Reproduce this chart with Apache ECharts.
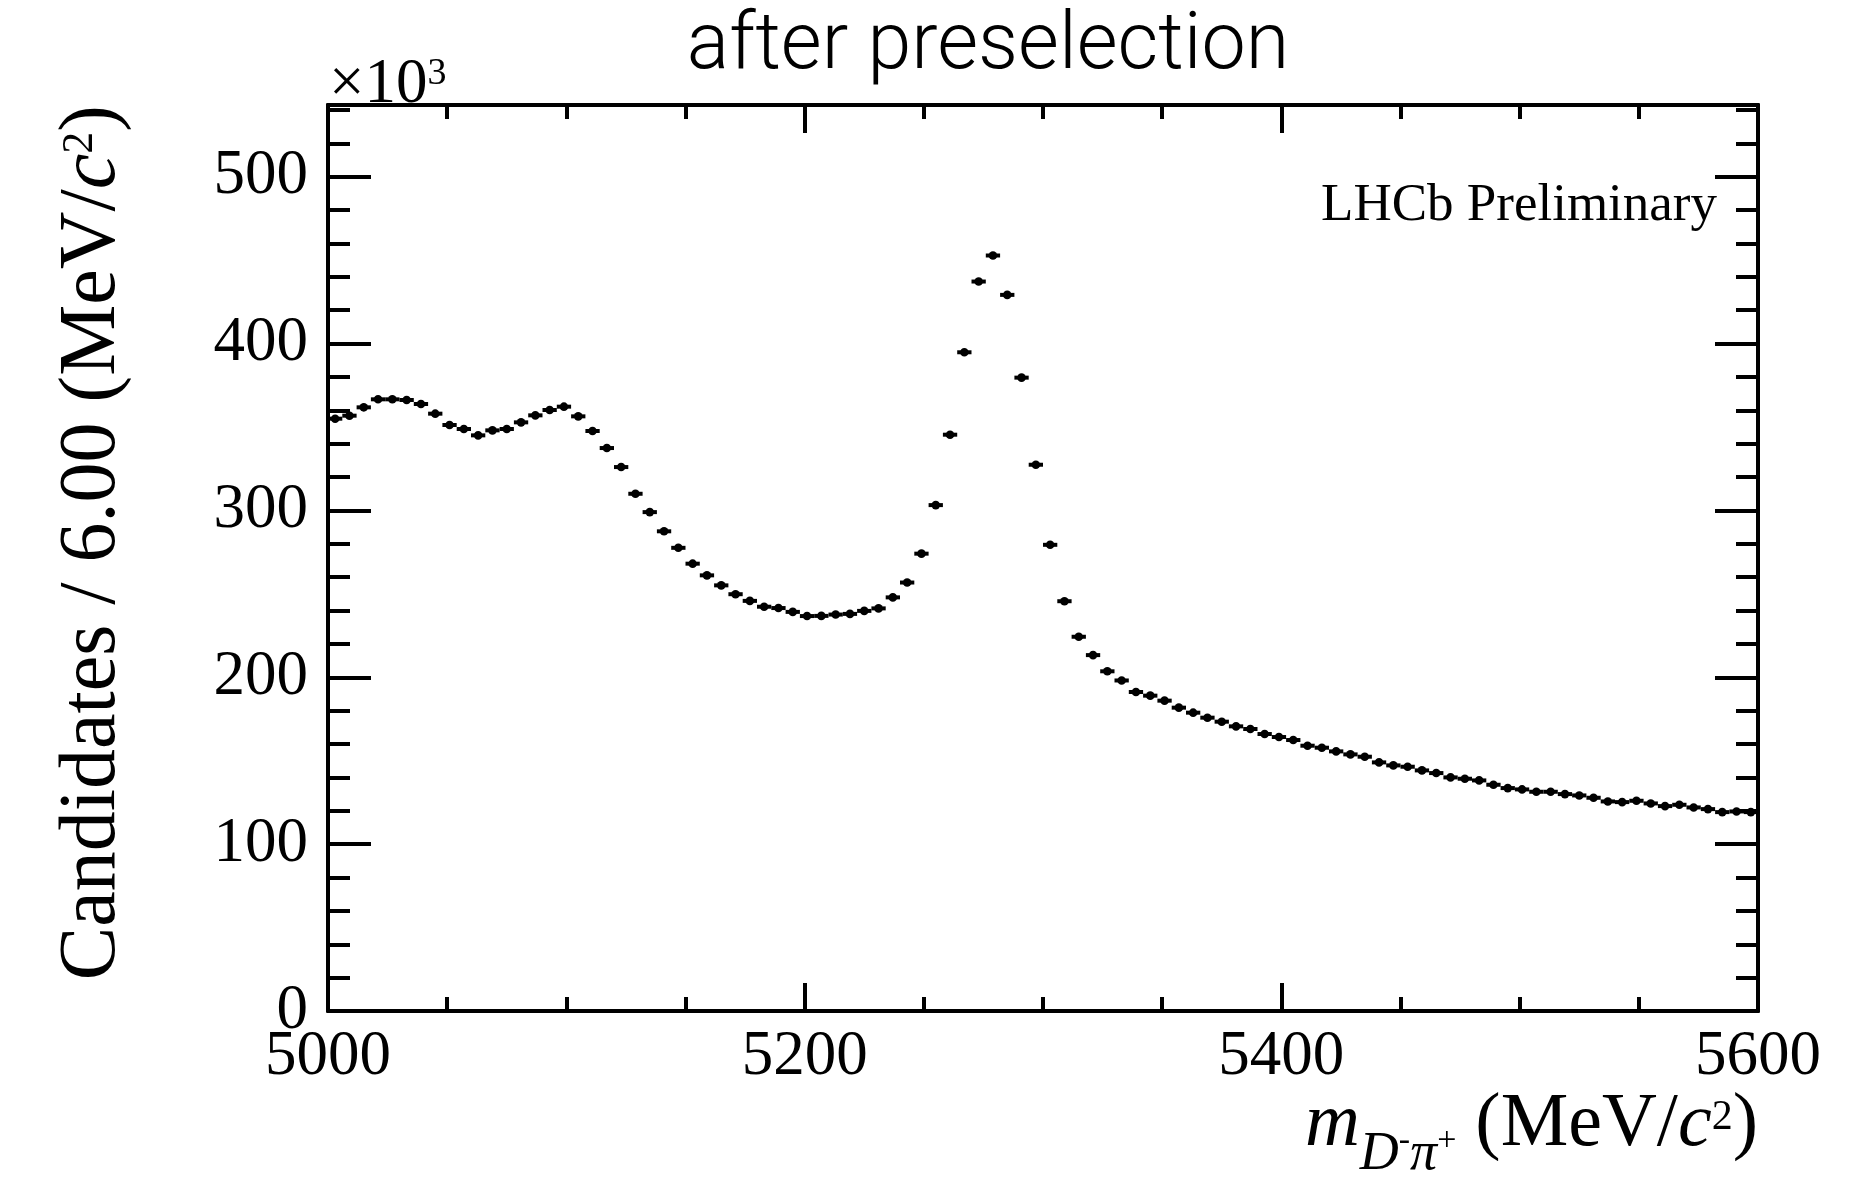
<!DOCTYPE html>
<html>
<head>
<meta charset="utf-8">
<script src="https://cdn.jsdelivr.net/npm/echarts@6/dist/echarts.min.js"></script>
<style>
html,body{margin:0;padding:0;background:#fff;}
#chart{width:1870px;height:1178px;}
</style>
</head>
<body>
<div id="chart"></div>
<script>
// ---- data (values in units of 10^3 candidates per 6 MeV/c^2 bin) ----
const massMin = 5000;
const massMax = 5600;
const binWidth = 6;
const candidates = [
  355.0, 356.8, 361.8, 366.6, 366.6, 366.2, 363.8, 358.0, 351.2, 348.8,
  345.0, 348.0, 348.8, 352.8, 357.0, 360.2, 362.2, 356.4, 347.6, 337.4,
  326.0, 310.0, 299.0, 287.5, 277.6, 268.1, 261.1, 255.1, 249.8, 245.8,
  242.3, 241.5, 239.2, 236.7, 236.8, 237.6, 238.0, 239.8, 241.3, 247.9,
  256.8, 274.1, 303.2, 345.4, 394.8, 437.2, 452.8, 429.2, 379.6, 327.4,
  279.4, 245.6, 224.3, 213.3, 203.6, 198.1, 191.2, 189.0, 186.0, 181.8,
  178.8, 175.8, 173.4, 170.6, 169.0, 166.0, 164.2, 162.4, 159.0, 157.8,
  155.6, 153.8, 152.4, 149.0, 147.2, 146.4, 144.2, 142.6, 140.0, 139.2,
  138.2, 135.6, 133.6, 132.8, 131.4, 131.4, 130.0, 129.2, 127.8, 125.6,
  125.2, 126.0, 124.4, 122.8, 123.6, 122.0, 121.0, 119.2, 119.6, 119.2
];
const xTickValues = [5000, 5200, 5400, 5600];
const yTickValues = [0, 100, 200, 300, 400, 500];
const yMax = 543;

// bin centres
const binCentres = candidates.map((v, i) => massMin + binWidth * i + binWidth / 2);
const points = candidates.map((v, i) => [binCentres[i], v]);

const SERIF = 'Liberation Serif';
const black = '#000';

function xAxisCfg(pos, showLabel) {
  return {
    type: 'value', position: pos, min: massMin, max: massMax,
    interval: xTickValues[1] - xTickValues[0],
    axisLine: { show: true, onZero: false, lineStyle: { color: black, width: 4 } },
    axisTick: { show: true, inside: true, length: 28, lineStyle: { color: black, width: 4 } },
    minorTick: { show: true, splitNumber: 4, length: 14, lineStyle: { color: black, width: 4 } },
    splitLine: { show: false },
    axisLabel: {
      show: showLabel, fontFamily: SERIF, fontSize: 63, color: black, margin: 15,
      formatter: function (v) { return xTickValues.indexOf(v) >= 0 ? String(v) : ''; }
    }
  };
}
function yAxisCfg(pos, interval, len, showLabel) {
  return {
    type: 'value', position: pos, min: 0, max: yMax, interval: interval,
    axisLine: { show: true, onZero: false, lineStyle: { color: black, width: 4 } },
    axisTick: { show: true, inside: true, length: len, lineStyle: { color: black, width: 4 } },
    splitLine: { show: false },
    axisLabel: {
      show: showLabel, fontFamily: SERIF, fontSize: 63, color: black, margin: 20,
      formatter: function (v) { return yTickValues.indexOf(v) >= 0 ? String(v) : ''; }
    }
  };
}

const chart = echarts.init(document.getElementById('chart'), null, { renderer: 'canvas' });

const mainRich = (size, extra) => Object.assign({ fontFamily: SERIF, fontSize: size, lineHeight: 100, fill: black, color: black }, extra || {});

chart.setOption({
  animation: false,
  backgroundColor: '#fff',
  grid: { left: 328, top: 105, width: 1430, height: 906, containLabel: false },
  xAxis: [xAxisCfg('bottom', true), xAxisCfg('top', false)],
  yAxis: [
    yAxisCfg('left', 100, 43, true),
    yAxisCfg('left', 20, 22, false),
    yAxisCfg('right', 100, 43, false),
    yAxisCfg('right', 20, 22, false)
  ],
  series: [{
    type: 'custom',
    xAxisIndex: 0,
    yAxisIndex: 0,
    clip: true,
    data: points,
    renderItem: function (params, api) {
      const x = api.value(0), y = api.value(1);
      const c = api.coord([x, y]);
      const l = api.coord([x - binWidth / 2, y]);
      const r = api.coord([x + binWidth / 2, y]);
      return {
        type: 'group',
        children: [
          { type: 'line', shape: { x1: l[0], y1: l[1], x2: r[0], y2: r[1] }, style: { stroke: black, lineWidth: 4 } },
          { type: 'circle', shape: { cx: c[0], cy: c[1], r: 4.3 }, style: { fill: black } }
        ]
      };
    }
  }],
  graphic: [
    {
      type: 'text', x: 988, y: 48,
      style: { text: 'after preselection', fontFamily: 'Roboto', fontWeight: 300, fontSize: 79, fill: black, align: 'center', verticalAlign: 'middle' }
    },
    {
      type: 'text', x: 329, y: 85,
      style: {
        text: '{a|×10}{s|3}', align: 'left', verticalAlign: 'middle',
        rich: {
          a: { fontFamily: SERIF, fontSize: 63, lineHeight: 80 },
          s: { fontFamily: SERIF, fontSize: 38, lineHeight: 80, padding: [0, 0, 22, 0] }
        }
      }
    },
    {
      type: 'text', x: 1717, y: 206,
      style: { text: 'LHCb Preliminary', fontFamily: SERIF, fontSize: 53, fill: black, align: 'right', verticalAlign: 'middle' }
    },
    {
      type: 'text', x: 93, y: 105, rotation: Math.PI / 2,
      style: {
        text: '{n|Candidates / 6.00 (MeV/}{i|c}{s|2}{n|)}',
        align: 'right', verticalAlign: 'middle',
        rich: {
          n: mainRich(80),
          i: mainRich(80, { fontStyle: 'italic' }),
          s: mainRich(44, { padding: [0, 0, 26, 0] })
        }
      }
    },
    {
      type: 'text', x: 1758, y: 1125,
      style: {
        text: '{i|m}{sub|D}{ss|-}{sub|π}{ss|+}{n| (MeV/}{i|c}{s|2}{n|)}',
        align: 'right', verticalAlign: 'middle',
        rich: {
          n: mainRich(76),
          i: mainRich(76, { fontStyle: 'italic' }),
          sub: mainRich(54, { fontStyle: 'italic', padding: [60, 0, 0, 0] }),
          ss: mainRich(34, { padding: [32, 0, 0, 0] }),
          s: mainRich(42, { padding: [0, 0, 14, 0] })
        }
      }
    }
  ]
});
</script>
</body>
</html>
